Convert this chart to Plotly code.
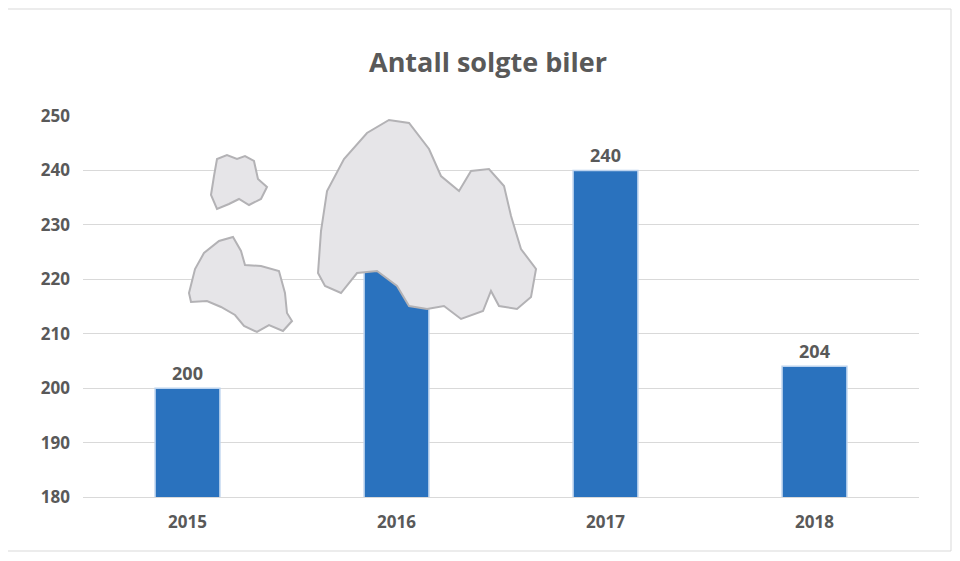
import plotly.graph_objects as go

years = ["2015", "2016", "2017", "2018"]
sold = [200, 230, 240, 204]
labels = ["<b>200</b>", "", "<b>240</b>", "<b>204</b>"]

# plot area in pixels, used for the decorative clouds
L, R, T, B, W, H = 84, 920, 115, 496, 960, 561
SHIFT_Y = 7  # renderer puts the plot a little lower than asked
SHIFT_X = 9  # ...and a little to the right

def px_path(pts):
    def c(p):
        return f"{(p[0]-L)/(R-L):.4f},{(B-p[1])/(B-T):.4f}"
    return "M " + " L ".join(c(p) for p in pts) + " Z"

clouds = [
    [(215,175),(218,158),(228,154),(238,158),(246,155),(255,160),(259,178),(268,186),(262,198),(250,204),(240,198),(230,203),(218,208),(212,194)],
    [(190,292),(196,268),(205,252),(220,240),(234,236),(242,250),(246,264),(262,265),(280,270),(286,292),(288,312),(293,320),(284,330),(270,324),(258,331),(245,325),(236,314),(222,306),(208,300),(192,301)],
    [(319,272),(322,230),(328,190),(345,158),(368,132),(390,119),(410,122),(430,148),(442,175),(460,190),(472,170),(490,168),(505,185),(512,215),(522,248),(537,268),(532,296),(518,308),(500,305),(492,290),(484,310),(462,318),(445,305),(428,308),(410,305),(398,285),(378,270),(358,272),(342,292),(326,285)],
]

fig = go.Figure(go.Bar(
    x=years, y=sold, text=labels, textposition="outside",
    marker=dict(color="#2a72be", line=dict(color="#bcd3ee", width=1.5)),
    textfont=dict(size=18, color="#595959", family="Open Sans"),
    cliponaxis=False,
))

shapes = [dict(type="path", xref="paper", yref="paper", path=px_path(c),
               fillcolor="#e6e5e8", line=dict(color="#b3b2b5", width=2), layer="above")
          for c in clouds]
shapes.append(dict(type="rect", xref="paper", yref="paper",
                   x0=(8-L)/(R-L), x1=(952-L)/(R-L), y0=(B-550)/(B-T), y1=(B-8)/(B-T),
                   line=dict(color="#d9d9d9", width=1), layer="below"))

fig.update_layout(
    width=W, height=H,
    margin=dict(l=L-SHIFT_X, r=W-R+SHIFT_X, t=T-SHIFT_Y, b=H-B+SHIFT_Y),
    paper_bgcolor="white", plot_bgcolor="white",
    title=dict(text="<b>Antall solgte biler</b>", x=0.5, xanchor="center", y=0.92,
               font=dict(size=27, color="#595959", family="Open Sans")),
    bargap=0.69, shapes=shapes, showlegend=False,
    font=dict(family="Open Sans", color="#595959"),
)
fig.update_yaxes(range=[180, 250], dtick=10, gridcolor="#d9d9d9", zeroline=False,
                 tickfont=dict(size=17, color="#595959"), tickprefix="<b>", ticksuffix="</b>",
                 ticklabelstandoff=12)
fig.update_xaxes(showline=True, linecolor="#d9d9d9", tickfont=dict(size=17, color="#595959"),
                 tickprefix="<b>", ticksuffix="</b>", ticklabelstandoff=10)
fig.write_html("out.html")
